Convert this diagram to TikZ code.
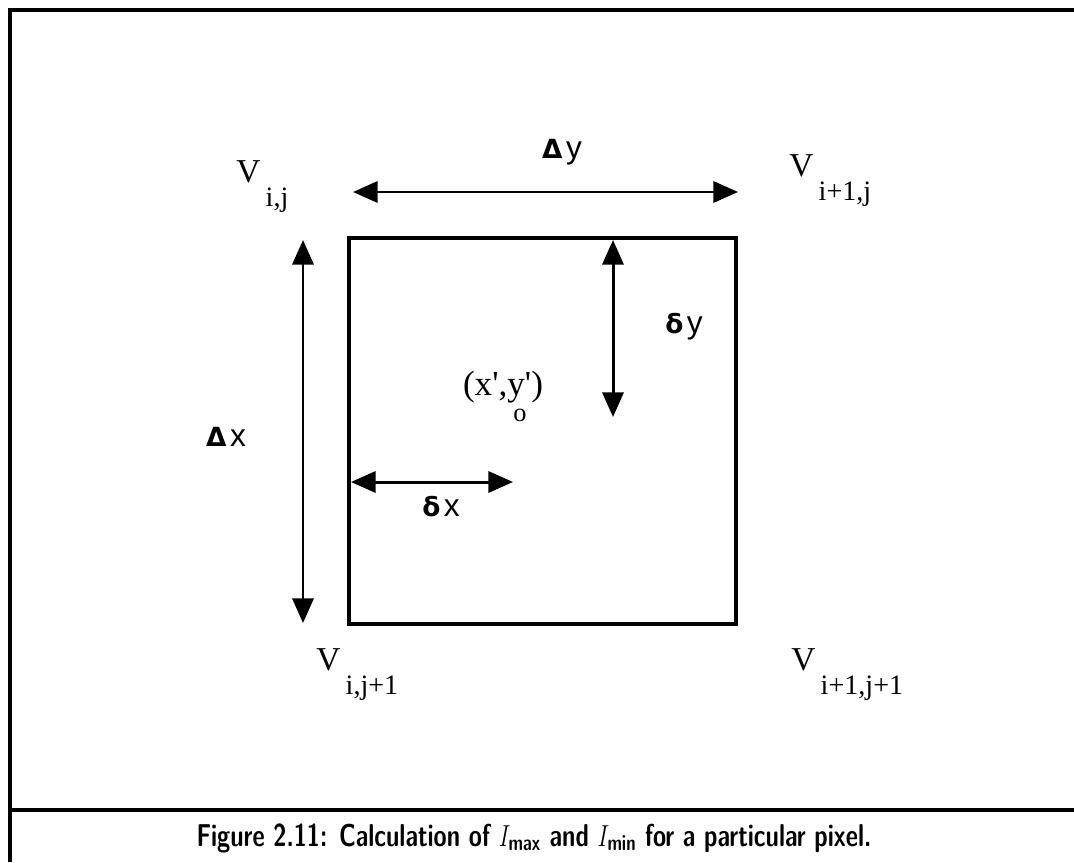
\documentclass[tikz,border=0pt]{standalone}
\usepackage{fontspec}
\usepackage{amsmath}
\usepackage{graphicx}
\usetikzlibrary{arrows.meta}
\newfontfamily\serifrm{Liberation Serif}
\newfontfamily\greekbf{DejaVu Sans}
\newfontfamily\latinsf{Liberation Sans}

% corner label: V with a lowered index
\newcommand{\vtx}[1]{{\serifrm\fontsize{19}{19}\selectfont V\hspace{3pt}\raisebox{-14pt}{\fontsize{16}{16}\selectfont #1}}}
\newcommand{\dlab}[2]{{\greekbf\bfseries\fontsize{15}{15}\selectfont #1\hspace{2pt}\latinsf\mdseries\fontsize{18}{18}\selectfont #2}}

\tikzset{
  frame/.style={line width=2.8pt},
  cell/.style={line width=2.8pt},
  dim/.style={line width=1.7pt, {Triangle[length=14pt,width=12pt]}-{Triangle[length=14pt,width=12pt]}},
  corner/.style={anchor=base west, inner sep=0pt},
  tag/.style={inner sep=0pt}
}

\begin{document}
\begin{tikzpicture}[x=0.02cm,y=-0.02cm]
        \useasboundingbox (0,0) rectangle (1074,862);
        % outer frame and caption rule
        \draw[frame] (1074,10) -- (10,10) -- (10,862);
        \draw[frame] (10,810) -- (1074,810);
        % the pixel
        \coordinate (c-nw) at (349,238);
        \coordinate (c-se) at (736,624);
        \draw[cell] (c-nw) rectangle (c-se);
        % dimension arrows
        \coordinate (Dy-a) at (353,192);
        \coordinate (Dy-b) at (738,192);
        \coordinate (Dx-a) at (303,240);
        \coordinate (Dx-b) at (303,623);
        \coordinate (dy-a) at (613,240);
        \coordinate (dy-b) at (613,417);
        \coordinate (dx-a) at (351,482);
        \coordinate (dx-b) at (513,482);
        \draw[dim] (Dy-a) -- (Dy-b);
        \draw[dim] (Dx-a) -- (Dx-b);
        \draw[dim] (dy-a) -- (dy-b);
        \draw[dim] (dx-a) -- (dx-b);
        \node[tag] (lDy) at (562,152) {\dlab{Δ}{y}};
        \node[tag] (lDx) at (226,437) {\dlab{Δ}{x}};
        \node[tag] (ldy) at (684,327) {\dlab{δ}{y}};
        \node[tag] (ldx) at (441,507) {\dlab{δ}{x}};
        % point inside
        \node[tag] (pt) at (503,387) {\serifrm\fontsize{20}{20}\selectfont (x',y')};
        \node[tag] (o) at (520,415) {\serifrm\fontsize{15}{15}\selectfont o};
        % corner values
        \node[corner] (v00) at (236,182) {\vtx{i,j}};
        \node[corner] (v10) at (789,176) {\vtx{i+1,j}};
        \node[corner] (v01) at (316,670) {\vtx{i,j+1}};
        \node[corner] (v11) at (791,670) {\vtx{i+1,j+1}};
        % caption
        \node[tag] (cap) at (534,838) {\resizebox{13.5cm}{\height}{\sffamily\bfseries\fontsize{18}{18}\selectfont Figure 2.11: Calculation of $I_{\text{max}}$ and $I_{\text{min}}$ for a particular pixel.}};
    \end{tikzpicture}
\end{document}
